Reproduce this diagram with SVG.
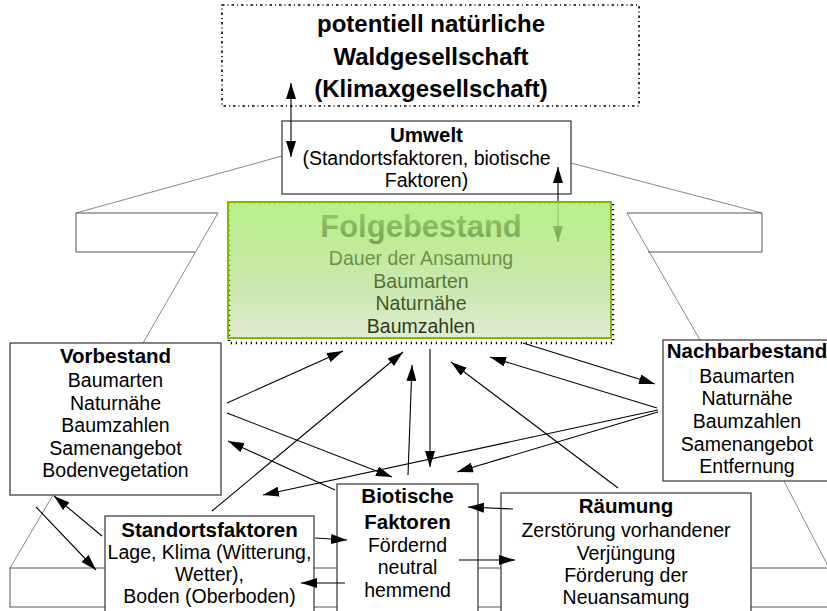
<svg xmlns="http://www.w3.org/2000/svg" width="827" height="611" viewBox="0 0 827 611">
<style>
text{font-family:"Liberation Sans",Arial,sans-serif;font-size:19.5px;fill:#000;text-anchor:middle}
.b{font-weight:bold;font-size:20.5px}
.box{fill:#fff;stroke:#333;stroke-width:1.2}
.bg{fill:none;stroke:#555;stroke-width:1}
.bgl{fill:none;stroke:#555;stroke-width:0.7}
.c{fill:none;stroke:#000;stroke-width:1.1;marker-end:url(#ah)}
.d{marker-start:url(#ah)}
</style>
<defs>
<marker id="ah" viewBox="0 0 16 10" refX="16" refY="5" markerWidth="16" markerHeight="10" markerUnits="userSpaceOnUse" orient="auto-start-reverse">
<path d="M0,0 L16,5 L0,10 z" fill="#000"/>
</marker>
<linearGradient id="gr" x1="0" y1="0" x2="0" y2="1">
<stop offset="0" stop-color="#b2f07c" stop-opacity="0.9"/>
<stop offset="0.5" stop-color="#a2da6a" stop-opacity="0.6"/>
<stop offset="1" stop-color="#86b850" stop-opacity="0.25"/>
</linearGradient>
</defs>
<rect width="827" height="611" fill="#fff"/>
<g id="background">
<path class="bgl" d="M282,156 L76,213"/>
<path class="bg" d="M195,252 L76,252 L76,213 L218,213"/>
<path class="bgl" d="M218,213 L143,343"/>
<path class="bgl" d="M571,163 L762,213"/>
<path class="bg" d="M627,213 L762,213 L762,252 L648,252"/>
<path class="bgl" d="M627,213 L700,340"/>
<path class="bgl" d="M53,495 L10,568"/>
<rect class="bg" x="10" y="568" width="840" height="39" fill="#fff"/>
<path class="bgl" d="M784,481 L830,570"/>
</g>
<g id="klimax">
<rect x="222" y="5" width="417" height="101" fill="none" stroke="#000" stroke-width="1.6" stroke-dasharray="2.5,3,1,3"/>
<text class="b" x="431" y="32" style="font-size:24px">potentiell natürliche</text>
<text class="b" x="431" y="65" style="font-size:24px">Waldgesellschaft</text>
<text class="b" x="431" y="97" style="font-size:24px">(Klimaxgesellschaft)</text>
</g>
<g id="umwelt">
<rect class="box" x="282" y="121" width="289" height="73"/>
<text class="b" x="426.5" y="142">Umwelt</text>
<text x="426.5" y="165">(Standortsfaktoren, biotische</text>
<text x="426.5" y="187">Faktoren)</text>
</g>
<g id="vorbestand">
<rect class="box" x="10" y="343" width="211" height="152"/>
<text class="b" x="115.5" y="363">Vorbestand</text>
<text x="115.5" y="387">Baumarten</text>
<text x="115.5" y="410">Naturnähe</text>
<text x="115.5" y="432">Baumzahlen</text>
<text x="115.5" y="455">Samenangebot</text>
<text x="115.5" y="477">Bodenvegetation</text>
</g>
<g id="nachbarbestand">
<rect class="box" x="663" y="340" width="180" height="141"/>
<text class="b" x="747" y="358">Nachbarbestand</text>
<text x="747" y="383">Baumarten</text>
<text x="747" y="405">Naturnähe</text>
<text x="747" y="428">Baumzahlen</text>
<text x="747" y="451">Samenangebot</text>
<text x="747" y="473">Entfernung</text>
</g>
<g id="standortsfaktoren">
<rect class="box" x="105" y="516" width="209" height="110"/>
<text class="b" x="209.5" y="537">Standortsfaktoren</text>
<text x="209.5" y="559">Lage, Klima (Witterung,</text>
<text x="209.5" y="581">Wetter),</text>
<text x="209.5" y="603">Boden (Oberboden)</text>
</g>
<g id="biotische">
<rect class="box" x="337" y="484" width="141" height="140"/>
<text class="b" x="407.5" y="503">Biotische</text>
<text class="b" x="407.5" y="529">Faktoren</text>
<text x="407.5" y="552">Fördernd</text>
<text x="407.5" y="574">neutral</text>
<text x="407.5" y="597">hemmend</text>
</g>
<g id="raeumung">
<rect class="box" x="501" y="493" width="250" height="130"/>
<text class="b" x="626" y="513">Räumung</text>
<text x="626" y="537">Zerstörung vorhandener</text>
<text x="626" y="560">Verjüngung</text>
<text x="626" y="582">Förderung der</text>
<text x="626" y="604">Neuansamung</text>
</g>
<g id="connectors">
<path class="c d" d="M291,157 L291,83"/>
<path class="c d" d="M558,167 L558,242"/>
<path class="c" d="M227,403 L343,351"/>
<path class="c" d="M227,413 L392,477"/>
<path class="c" d="M335,490 L228,441"/>
<path class="c" d="M212,511 L403,352"/>
<path class="c" d="M408,475 L412,365"/>
<path class="c" d="M430,349 L430,467"/>
<path class="c" d="M658,410 L263,495"/>
<path class="c" d="M658,412 L457,472"/>
<path class="c" d="M657,408 L490,357"/>
<path class="c" d="M523,343 L655,384"/>
<path class="c" d="M618,488 L451,362"/>
<path class="c" d="M102,536 L54,496"/>
<path class="c" d="M36,507 L96,570"/>
<path class="c" d="M315,538 L347,540"/>
<path class="c" d="M345,583 L301,583"/>
<path class="c" d="M513,509 L468,507"/>
<path class="c" d="M459,560 L515,560"/>
</g>
<g id="folgebestand">
<rect x="229" y="203" width="384" height="140" fill="none" stroke="#000" stroke-width="2.5" stroke-dasharray="1.2,3.8"/>
<text class="b" x="421" y="237" style="font-size:31px">Folgebestand</text>
<text x="421" y="265">Dauer der Ansamung</text>
<text x="421" y="288">Baumarten</text>
<text x="421" y="310">Naturnähe</text>
<text x="421" y="333">Baumzahlen</text>
<rect x="228" y="202" width="383" height="136" fill="url(#gr)" stroke="#7fba00" stroke-width="2"/>
</g>
</svg>
